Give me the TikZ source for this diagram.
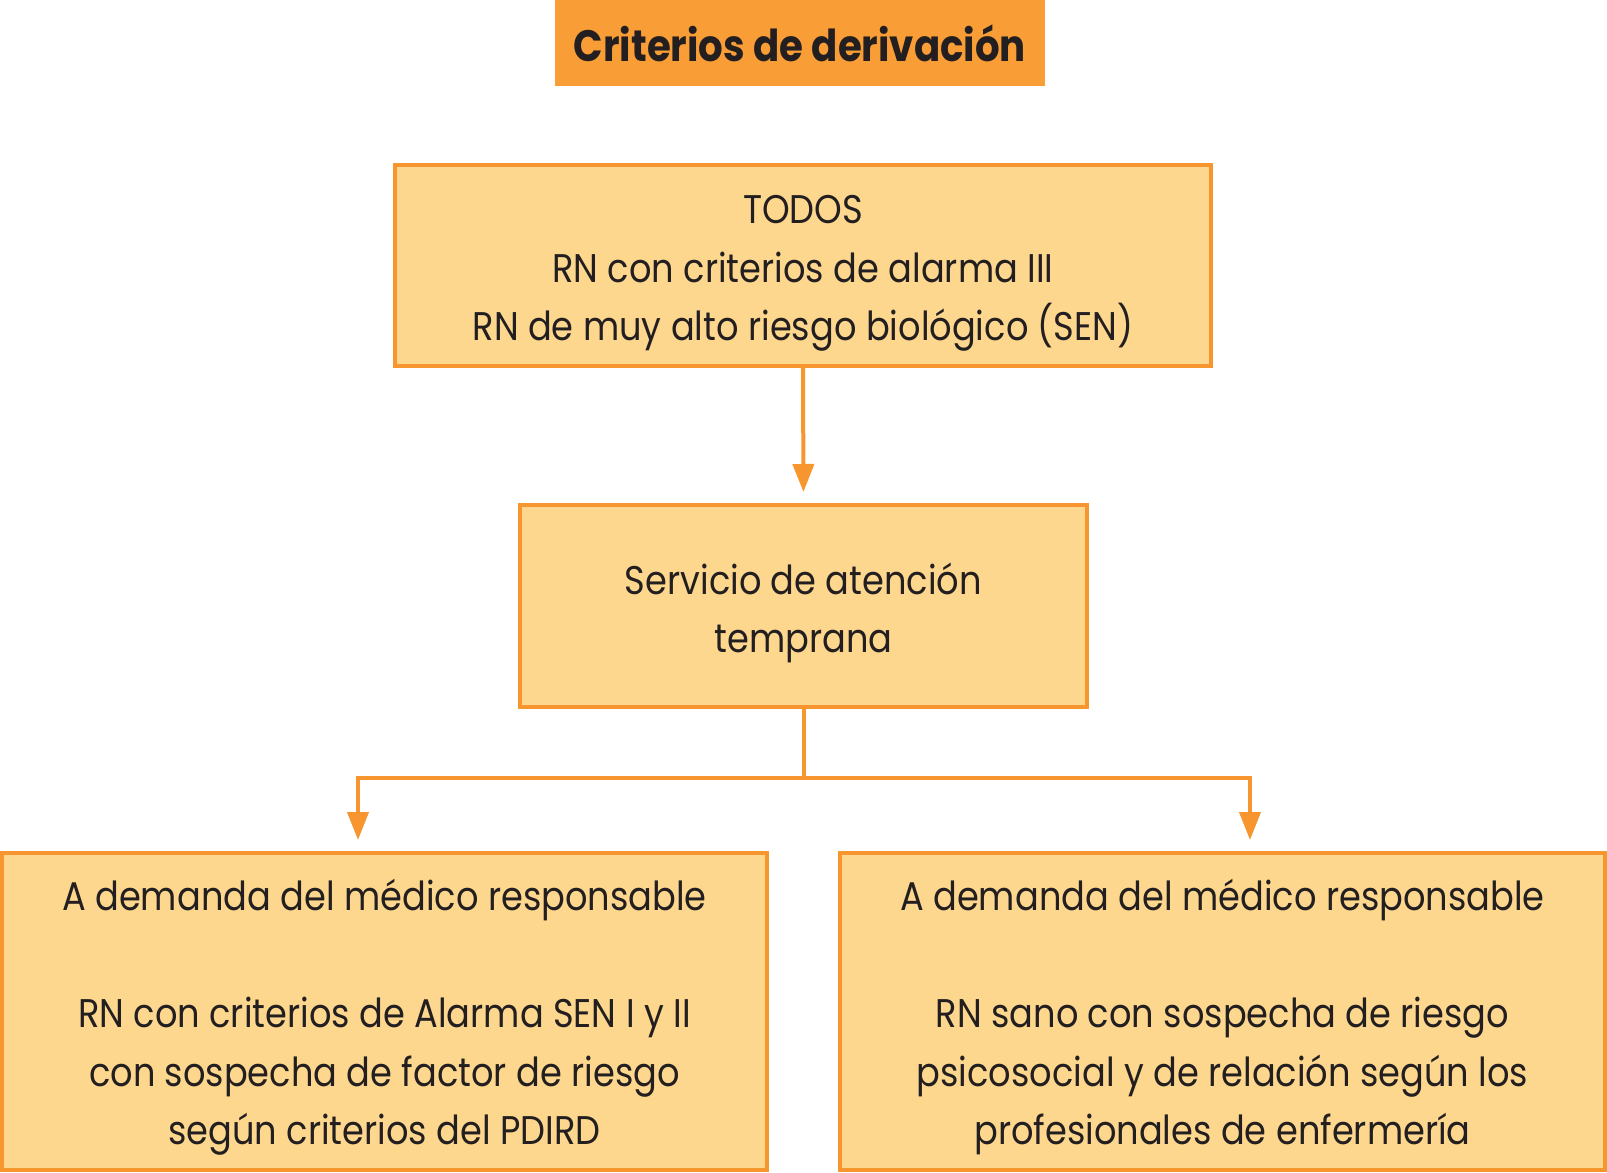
\documentclass[tikz,border=0pt]{standalone}
\usepackage{fontspec}
\setmainfont[FakeStretch=0.88]{Poppins}
\usetikzlibrary{arrows.meta}
\definecolor{orline}{HTML}{F7962F}
\definecolor{orfill}{HTML}{FDD78E}
\definecolor{titlefill}{HTML}{F99D36}
\definecolor{txt}{HTML}{231F20}
\begin{document}
\begin{tikzpicture}[x=1pt,y=-1pt,
  box/.style={draw=orline, fill=orfill, line width=4pt, inner sep=0pt},
  lbl/.style={align=center, text=txt, inner sep=0pt, font=\fontsize{40}{58.5}\selectfont},
  conn/.style={draw=orline, line width=4pt},
  arr/.style={conn, -{Triangle[width=21pt,length=28pt]}, shorten >=11pt}]
\useasboundingbox (0,0) rectangle (1607,1173);
\node[fill=titlefill, minimum width=490pt, minimum height=86pt, inner sep=0pt,
  text=txt, font=\fontsize{44}{48}\selectfont\bfseries] (title) at (800,43) {Criterios de derivación};
\node[box, minimum width=816pt, minimum height=201pt] (top) at (803,265.5) {};
\node[box, minimum width=567pt, minimum height=202pt] (mid) at (803.5,606) {};
\node[box, minimum width=765pt, minimum height=317pt] (left) at (384.5,1011.5) {};
\node[box, minimum width=765pt, minimum height=317pt] (right) at (1222.5,1011.5) {};
\node[lbl] (topt) at ([yshift=-8pt]top.center)
  {TODOS\\RN con criterios de alarma III\\RN de muy alto riesgo biológico (SEN)};
\node[lbl] (midt) at ([yshift=-7pt]mid.center) {Servicio de atención\\temprana};
\node[lbl] (leftt) at ([yshift=-6pt]left.center)
  {A demanda del médico responsable\\[58.5pt]RN con criterios de Alarma SEN I y II\\con sospecha de factor de riesgo\\según criterios del PDIRD};
\node[lbl] (rightt) at ([yshift=-6pt]right.center)
  {A demanda del médico responsable\\[58.5pt]RN sano con sospecha de riesgo\\psicosocial y de relación según los\\profesionales de enfermería};
\coordinate (split) at (mid.south |- 0,778);
\coordinate (lturn) at (358,778);
\coordinate (rturn) at (1250,778);
\draw[arr] (top.south) -- (mid.north);
\draw[conn] (mid.south) -- (split);
\draw[arr] (split) -- (lturn) -- (lturn |- left.north);
\draw[arr] (split) -- (rturn) -- (rturn |- right.north);
\end{tikzpicture}
\end{document}
